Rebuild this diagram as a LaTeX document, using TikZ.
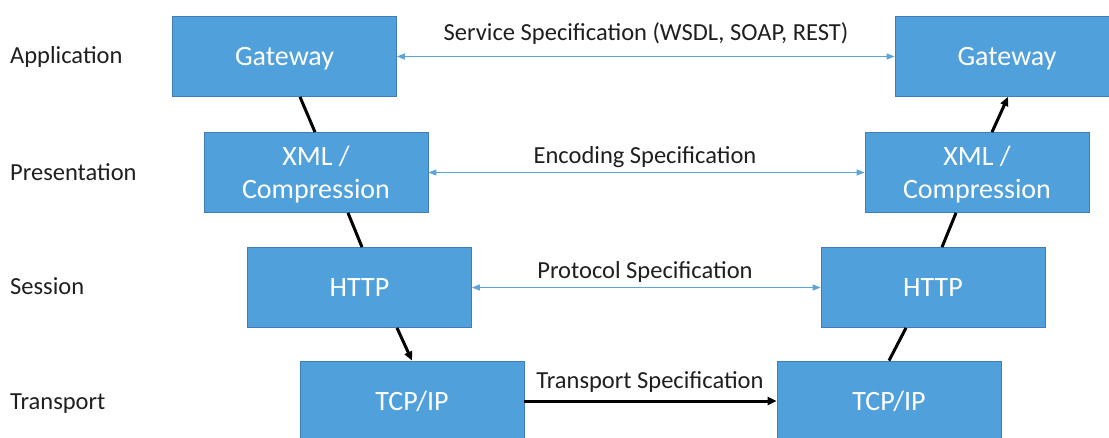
\documentclass[tikz,border=0pt]{standalone}
\usepackage{fontspec}
\setmainfont{Carlito}
\usetikzlibrary{arrows.meta,calc}
\definecolor{boxfill}{RGB}{80,160,220}
\definecolor{boxline}{RGB}{65,125,185}
\definecolor{speclink}{RGB}{90,165,222}
\begin{document}
\begin{tikzpicture}[x=1pt,y=-1pt,
 layer/.style={draw=boxline, line width=0.8pt, fill=boxfill, text=white, minimum width=224pt, minimum height=80pt, inner sep=0pt, text depth=0pt, font=\fontsize{28}{33}\selectfont, align=center},
 lbl/.style={font=\fontsize{24.5}{29}\selectfont, text=black!88, inner sep=0pt},
 spec/.style={draw=speclink, line width=1.2pt, {Triangle[length=8pt,width=6pt]}-{Triangle[length=8pt,width=6pt]}},
 link/.style={draw=black, line width=3pt},
 linkarr/.style={link, -{Triangle[length=9pt,width=8pt]}}]
\useasboundingbox (0,0) rectangle (1109,437);
\clip (0,0) rectangle (1109,437);
% layer labels
\node[lbl, anchor=base west] (la) at (10,63) {Application};
\node[lbl, anchor=base west] (lp) at (10,180) {Presentation};
\node[lbl, anchor=base west] (ls) at (10,294) {Session};
\node[lbl, anchor=base west] (lt) at (10,409) {Transport};
% boxes
\node[layer] (g1) at (284.5,56.5) {Gateway};
\node[layer] (g2) at (1007,56.5) {Gateway};
\node[layer] (x1) at (316,172.5) {XML /\\Compression};
\node[layer] (x2) at (977,172.5) {XML /\\Compression};
\node[layer] (h1) at (359.5,287.5) {HTTP};
\node[layer] (h2) at (933,287.5) {HTTP};
\node[layer] (t1) at (412,401) {TCP/IP};
\node[layer] (t2) at (889,401) {TCP/IP};
% specifications
\draw[spec] (g1.east) -- (g2.west);
\draw[spec] (x1.east) -- (x2.west);
\draw[spec] (h1.east) -- (h2.west);
\draw[linkarr] (t1.east) -- (t2.west);
\node[lbl, anchor=base] (sa) at (646,40) {Service Specification (WSDL, SOAP, REST)};
\node[lbl, anchor=base] (sp) at (645,163) {Encoding Specification};
\node[lbl, anchor=base] (ss) at (645,278) {Protocol Specification};
\node[lbl, anchor=base] (st) at (650,388) {Transport Specification};
% vertical path
\draw[link] ([xshift=15.5pt]g1.south) -- ([xshift=-1pt]x1.north);
\draw[link] ([xshift=32pt]x1.south) -- ([xshift=2.5pt]h1.north);
\draw[linkarr] ([xshift=37.5pt]h1.south) -- (t1.north);
\draw[link] (t2.north) -- ([xshift=-27pt]h2.south);
\draw[link] ([xshift=9pt]h2.north) -- ([xshift=-21pt]x2.south);
\draw[linkarr] ([xshift=15pt]x2.north) -- ([xshift=1pt]g2.south);
\end{tikzpicture}
\end{document}
